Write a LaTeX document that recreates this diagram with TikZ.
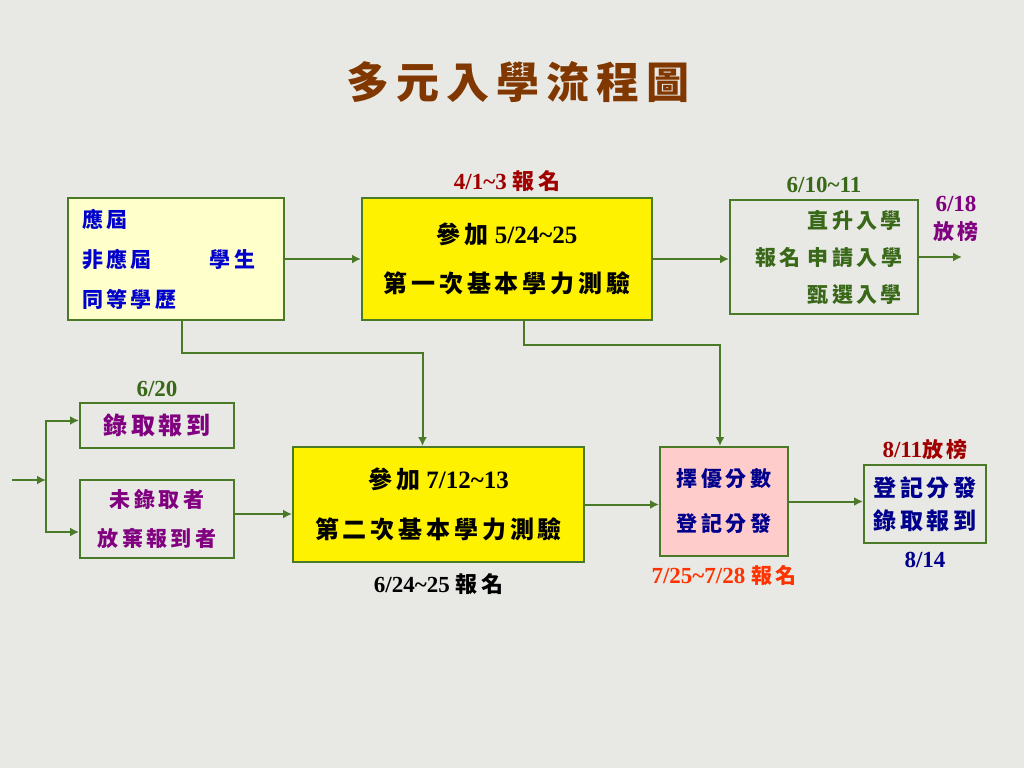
\documentclass[tikz,border=0pt]{standalone}
\usepackage{fontspec}
\setmainfont{Liberation Serif}
\newfontfamily\cjk[LetterSpace=16]{Noto Sans CJK TC}
\usetikzlibrary{arrows.meta,positioning}

\definecolor{bgcol}{RGB}{232,232,228}
\definecolor{linegreen}{RGB}{74,122,40}
\definecolor{titlebrown}{RGB}{128,56,0}
\definecolor{darkred}{RGB}{160,0,0}
\definecolor{txtgreen}{RGB}{56,104,24}
\definecolor{txtpurple}{RGB}{128,0,128}
\definecolor{txtblue}{RGB}{0,0,204}
\definecolor{txtnavy}{RGB}{0,0,140}
\definecolor{txtorange}{RGB}{255,51,0}
\definecolor{paleyellow}{RGB}{255,255,204}
\definecolor{pink}{RGB}{255,204,204}

\tikzstyle{box} = [draw=linegreen, line width=2pt, inner sep=0pt, align=center, font=\bfseries]
\tikzstyle{line} = [draw=linegreen, line width=2pt, -{Latex[length=9pt,width=9pt]}]
\tikzstyle{date} = [inner sep=0pt, font=\bfseries\fontsize{23}{28}\selectfont, align=center]

\begin{document}
\begin{tikzpicture}[
            x = 1pt, y = -1pt, % pixel coordinates, y downwards
            node distance = 4pt
        ]
        \fill[bgcol] (0,0) rectangle (1024,768);
        \useasboundingbox (0,0) rectangle (1024,768);

        \node[font=\cjk\bfseries\fontsize{43}{43}\selectfont, text=titlebrown] (title) at (518,82) {多元入學流程圖};

        % first round
        \node[box, fill=paleyellow, minimum width=216, minimum height=122, text width=188, align=left,
              text=txtblue, font=\cjk\bfseries\fontsize{21}{40}\selectfont] (cand) at (176,259)
              {應屆\\非應屆\hspace{58pt}學生\\同等學歷};
        \node[box, fill=yellow, minimum width=290, minimum height=122,
              font=\bfseries\fontsize{25}{49}\selectfont] (test1) at (507,259)
              {{\cjk\fontsize{24}{49}\selectfont 參加} 5/24\textasciitilde25\\{\cjk\fontsize{24}{49}\selectfont 第一次基本學力測驗}};
        \node[date, text=darkred, above=5pt of test1] (reg1) {4/1\textasciitilde3 {\cjk\fontsize{22}{28}\selectfont 報名}};
        \node[box, minimum width=188, minimum height=114, text width=156, align=right,
              text=txtgreen, font=\cjk\bfseries\fontsize{21}{37}\selectfont] (choice) at (824,257)
              {直升入學\\報名 申請入學\\甄選入學};
        \node[date, text=txtgreen, above=6pt of choice] (reg2) {6/10\textasciitilde11};
        \coordinate (out1) at (962,257);
        \node[date, text=txtpurple] (result1) at (956,219) {6/18\\{\cjk\fontsize{21}{28}\selectfont 放榜}};

        % second round
        \node[box, minimum width=154, minimum height=45, text=txtpurple,
              font=\cjk\bfseries\fontsize{24}{28}\selectfont] (admit) at (157,425.5) {錄取報到};
        \node[date, text=txtgreen, above=5pt of admit] (day1) {6/20};
        \node[box, minimum width=154, minimum height=78, text=txtpurple,
              font=\cjk\bfseries\fontsize{21}{39}\selectfont] (fail) at (157,519) {未錄取者\\放棄報到者};
        \coordinate (in2) at (12,480);
        \coordinate (split) at (46,480);
        \node[box, fill=yellow, minimum width=291, minimum height=115,
              font=\bfseries\fontsize{25}{50}\selectfont] (test2) at (438.5,504.5)
              {{\cjk\fontsize{24}{50}\selectfont 參加} 7/12\textasciitilde13\\{\cjk\fontsize{24}{50}\selectfont 第二次基本學力測驗}};
        \node[date, text=black, below=10pt of test2] (reg3) {6/24\textasciitilde25 {\cjk\fontsize{22}{28}\selectfont 報名}};

        % placement
        \node[box, fill=pink, minimum width=128, minimum height=109, text=txtnavy,
              font=\cjk\bfseries\fontsize{21}{45}\selectfont] (merit) at (724,501.5) {擇優分數\\登記分發};
        \node[date, text=txtorange, below=8pt of merit] (reg4) {7/25\textasciitilde7/28 {\cjk\fontsize{21}{28}\selectfont 報名}};
        \node[box, minimum width=122, minimum height=78, text=txtnavy,
              font=\cjk\bfseries\fontsize{23}{33}\selectfont] (final) at (925,504) {登記分發\\錄取報到};
        \node[date, text=darkred, above=4pt of final] (result2) {8/11{\cjk\fontsize{21}{28}\selectfont 放榜}};
        \node[date, text=txtnavy, below=8pt of final] (day2) {8/14};

        \draw[line] (cand) -- (test1);
        \draw[line] (test1.east) -- (test1.east -| choice.west);
        \draw[line] (choice) -- (out1);
        \draw[line] ([xshift=6pt]cand.south) -- ++(0,32) -| ([xshift=-16pt]test2.north);
        \draw[line] ([xshift=17pt]test1.south) -- ++(0,24) -| ([xshift=-4pt]merit.north);
        \draw[line] (in2) -- (split);
        \draw[line] (split) |- ([yshift=5pt]admit.west);
        \draw[line] (split) |- ([yshift=-13pt]fail.west);
        \draw[line] ([yshift=5pt]fail.east) -- ([yshift=5pt]fail.east -| test2.west);
        \draw[line] (test2.east) -- (test2.east -| merit.west);
        \draw[line] (merit.east) -- (merit.east -| final.west);

    \end{tikzpicture}
\end{document}
